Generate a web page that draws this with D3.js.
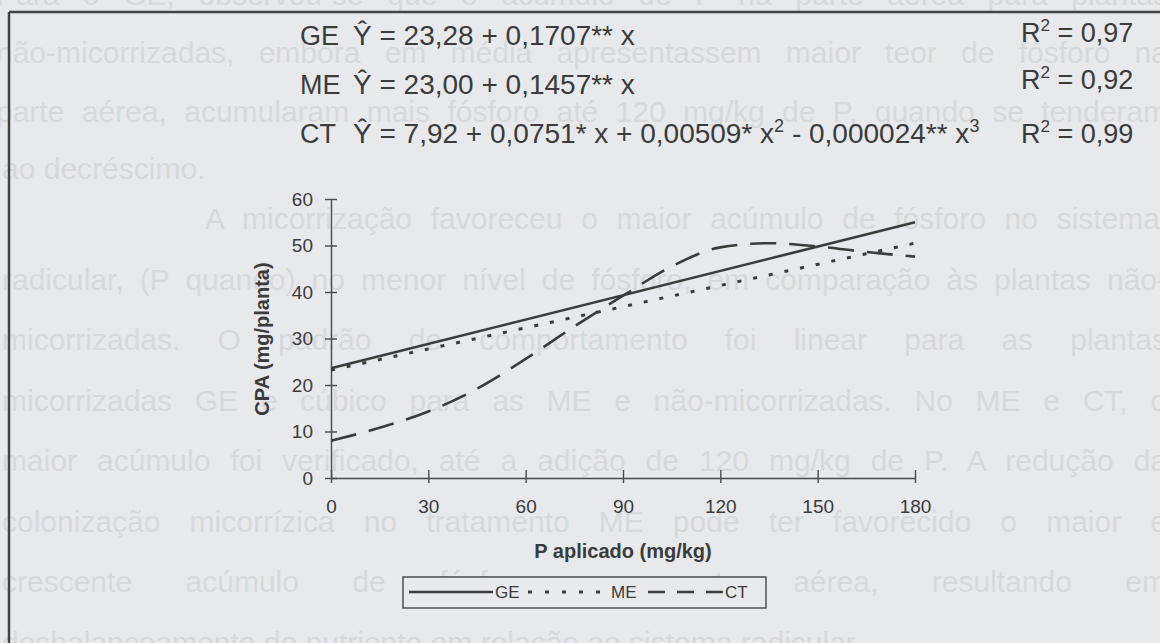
<!DOCTYPE html>
<html>
<head>
<meta charset="utf-8">
<script src="https://cdn.jsdelivr.net/npm/d3@7/dist/d3.min.js"></script>
<style>
  body { margin: 0; background: #e7e9ec; }
  svg { display: block; }
</style>
</head>
<body>
<script>
// values
const doseTicks = [0, 30, 60, 90, 120, 150, 180];
const cpaTicks = [0, 10, 20, 30, 40, 50, 60];

const geDose = [0, 180];
const geCPA = [23.6, 55.0];
const meDose = [0, 180];
const meCPA = [23.2, 50.5];
const ctDose = [0, 15, 30, 45, 60, 75, 90, 105, 120, 135, 150, 165, 180];
const ctCPA = [8.0, 10.8, 14.3, 19.2, 25.6, 32.6, 39.2, 45.5, 49.6, 50.5, 49.8, 48.6, 47.6];

const seriesNames = ["GE", "ME", "CT"];
const r2Values = ["0,97", "0,92", "0,99"];
// equation pieces, "^" marks a superscript
const equations = [
  ["Ŷ = 23,28 + 0,1707** x"],
  ["Ŷ = 23,00 + 0,1457** x"],
  ["Ŷ = 7,92 + 0,0751* x + 0,00509* x", "^2", " - 0,000024** x", "^3"]
];

// page text showing through the figure box
const pageLines = [
  "Para o GE, observou-se que o acúmulo de P na parte aérea para plantas",
  "não-micorrizadas, embora em média apresentassem maior teor de fósforo na",
  "parte aérea, acumularam mais fósforo até 120 mg/kg de P, quando se tenderam",
  "ao decréscimo."
];
const pageLines2 = [
  "A micorrização favoreceu o maior acúmulo de fósforo no sistema",
  "radicular, (P quando) no menor nível de fósforo, em comparação às plantas não-",
  "micorrizadas. O padrão de comportamento foi linear para as plantas",
  "micorrizadas GE e cúbico para as ME e não-micorrizadas. No ME e CT, o",
  "maior acúmulo foi verificado, até a adição de 120 mg/kg de P. A redução da",
  "colonização micorrízica no tratamento ME pode ter favorecido o maior e",
  "crescente acúmulo de fósforo na parte aérea, resultando em",
  "desbalanceamento do nutriente em relação ao sistema radicular."
];

const width = 1160, height = 643;
const ink = "#3b3b3b";
const font = "'Liberation Sans', Arial, sans-serif";

const svg = d3.select("body").append("svg")
  .attr("width", width).attr("height", height);

svg.append("rect").attr("width", width).attr("height", height).attr("fill", "#e7e9ec");

// faint page text, justified with word spacing
const page = svg.append("g")
  .attr("font-family", font).attr("font-size", 30).attr("fill", "#d6d9dc");
function justify(sel, target) {
  const w = sel.node().getComputedTextLength();
  const gaps = (sel.text().match(/ /g) || []).length;
  if (gaps > 0 && target > w) sel.attr("word-spacing", (target - w) / gaps);
}
const topY = [5, 63, 122, 179];
pageLines.forEach((t, i) => {
  const tx = page.append("text").attr("x", i == 3 ? 2 : -4).attr("y", topY[i]).text(t);
  if (i < 3) justify(tx, 1172);
});
pageLines2.forEach((t, i) => {
  const tx = page.append("text").attr("x", i == 0 ? 205 : 2).attr("y", 229 + i * 60.5).text(t);
  if (i < 7) justify(tx, i == 0 ? 955 : 1165);
});

// frame
svg.append("line").attr("x1", 9).attr("x2", width).attr("y1", 12).attr("y2", 12)
  .attr("stroke", "#444").attr("stroke-width", 2.5);
svg.append("line").attr("x1", 9).attr("x2", 9).attr("y1", 12).attr("y2", height)
  .attr("stroke", "#444").attr("stroke-width", 2.5);

// equations
const eqG = svg.append("g").attr("font-family", font).attr("fill", ink).attr("font-size", 28);
const rowY = [45, 94, 143];
const r2Y = [42, 89, 143];
equations.forEach((parts, i) => {
  eqG.append("text").attr("x", 300).attr("y", rowY[i]).attr("font-size", 27).text(seriesNames[i]);
  const t = eqG.append("text").attr("x", 353).attr("y", rowY[i]);
  let lift = 0;
  parts.forEach(p => {
    if (p[0] == "^") {
      t.append("tspan").attr("dy", -11).attr("font-size", 18).text(p.slice(1));
      lift = 11;
    } else {
      t.append("tspan").attr("dy", lift).text(p);
      lift = 0;
    }
  });
  const r = eqG.append("text").attr("x", 1021).attr("y", r2Y[i]).attr("font-size", 27);
  r.append("tspan").text("R");
  r.append("tspan").attr("dy", -11).attr("font-size", 17).text("2");
  r.append("tspan").attr("dy", 11).text(" = " + r2Values[i]);
});

// scales
const x = d3.scaleLinear().domain([0, 180]).range([331, 915]);
const y = d3.scaleLinear().domain([0, 60]).range([478, 199]);

const yAxis = svg.append("g").attr("transform", `translate(${x(0)},0)`)
  .call(d3.axisLeft(y).tickValues(cpaTicks).tickSize(6).tickSizeOuter(0).tickPadding(12));
yAxis.selectAll(".tick line").attr("x1", 6);

const xAxis = svg.append("g").attr("transform", `translate(0,${y(0)})`)
  .call(d3.axisBottom(x).tickValues(doseTicks).tickSize(5).tickSizeOuter(0).tickPadding(17));
xAxis.selectAll(".tick line").attr("y1", -8);

[xAxis, yAxis].forEach(a => {
  a.selectAll("path, line").attr("stroke", "#4a4a4a").attr("stroke-width", 1.4);
  a.selectAll("text").attr("font-family", font).attr("font-size", 19).attr("fill", ink);
});

svg.append("text").attr("transform", "translate(269,339) rotate(-90)")
  .attr("text-anchor", "middle").attr("font-family", font).attr("font-weight", "bold")
  .attr("font-size", 20).attr("fill", ink).text("CPA (mg/planta)");
svg.append("text").attr("x", 623).attr("y", 558)
  .attr("text-anchor", "middle").attr("font-family", font).attr("font-weight", "bold")
  .attr("font-size", 20).attr("fill", ink).text("P aplicado (mg/kg)");

// curves
const line = d3.line().x(d => x(d[0])).y(d => y(d[1])).curve(d3.curveMonotoneX);
const series = [
  { pts: d3.zip(geDose, geCPA), dash: null, w: 2.6 },
  { pts: d3.zip(meDose, meCPA), dash: "4,12", w: 3 },
  { pts: d3.zip(ctDose, ctCPA), dash: "26,13", w: 2.6 }
];
series.forEach(s => {
  svg.append("path").attr("d", line(s.pts)).attr("fill", "none")
    .attr("stroke", ink).attr("stroke-width", s.w)
    .attr("stroke-dasharray", s.dash);
});

// legend
const lg = svg.append("g").attr("font-family", font).attr("font-size", 17).attr("fill", ink);
lg.append("rect").attr("x", 403).attr("y", 577).attr("width", 363).attr("height", 31)
  .attr("fill", "#e7e9ec").attr("stroke", "#444").attr("stroke-width", 1.4);
const legendItems = [
  { x1: 409, x2: 493, tx: 495, dash: null, w: 2.4 },
  { x1: 528, x2: 600, tx: 611, dash: "4,13", w: 3 },
  { x1: 648, x2: 723, tx: 725, dash: "17,12", w: 2.4 }
];
legendItems.forEach((it, i) => {
  lg.append("line").attr("x1", it.x1).attr("x2", it.x2).attr("y1", 592).attr("y2", 592)
    .attr("stroke", ink).attr("stroke-width", it.w).attr("stroke-dasharray", it.dash);
  lg.append("text").attr("x", it.tx).attr("y", 598).text(seriesNames[i]);
});
</script>
</body>
</html>
